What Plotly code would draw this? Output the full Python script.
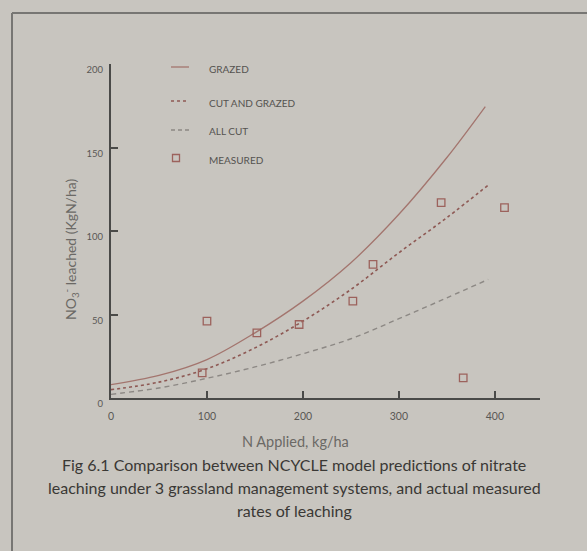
import plotly.graph_objects as go

# NCYCLE model predictions of nitrate leaching (kg N/ha) against N applied (kg/ha)
n_grazed = [0, 50, 100, 150, 200, 250, 300, 350, 390]
leach_grazed = [8.0, 13.5, 23.0, 39.0, 58.0, 81.0, 110.0, 144.0, 174.5]

n_cut_grazed = [0, 50, 100, 150, 200, 250, 300, 350, 393]
leach_cut_grazed = [5.0, 9.5, 17.5, 30.0, 46.0, 65.0, 87.0, 108.0, 127.5]

n_all_cut = [0, 50, 100, 150, 200, 250, 300, 350, 393]
leach_all_cut = [2.2, 6.0, 11.8, 18.6, 26.5, 35.5, 47.5, 60.0, 71.0]

# measured leaching rates
n_measured = [95, 100, 152, 196, 252, 273, 344, 367, 410]
leach_measured = [15, 46, 39, 44, 58, 80, 117, 12, 114]

x_ticks = [0, 100, 200, 300, 400]
y_ticks = [0, 50, 100, 150, 200]

legend_labels = ["GRAZED", "CUT AND GRAZED", "ALL CUT", "MEASURED"]

BG = "#c8c5bf"
AXIS = "#4a4a48"
W, H = 587, 551
ML, MR, MT, MB = 111, 47, 64, 153
PW, PH = W - ML - MR, H - MT - MB


def px(x):
    return (x - ML) / PW


def py(y):
    return (H - MB - y) / PH


fig = go.Figure()

fig.add_trace(go.Scatter(
    x=n_grazed, y=leach_grazed, mode="lines", line_shape="spline",
    line=dict(color="#a3756e", width=1.3), showlegend=False))
fig.add_trace(go.Scatter(
    x=n_cut_grazed, y=leach_cut_grazed, mode="lines", line_shape="spline",
    line=dict(color="#8e5954", width=1.6, dash="dot"), showlegend=False))
fig.add_trace(go.Scatter(
    x=n_all_cut, y=leach_all_cut, mode="lines", line_shape="spline",
    line=dict(color="#8c8884", width=1.4, dash="5px,4px"), showlegend=False))
fig.add_trace(go.Scatter(
    x=n_measured, y=leach_measured, mode="markers",
    marker=dict(symbol="square-open", size=7.5, color="#9c625c",
                line=dict(width=1.3)),
    showlegend=False, cliponaxis=False))

shapes = []
annotations = []

# outer frame of the figure panel
frame = dict(type="line", xref="paper", yref="paper",
             line=dict(color="#777673", width=2))
shapes.append({**frame, "x0": px(12), "x1": px(600), "y0": py(13), "y1": py(13)})
shapes.append({**frame, "x0": px(12), "x1": px(12), "y0": py(13), "y1": py(600)})

# key
key_rows = [67, 101, 130, 158]
key_styles = [
    dict(color="#a3756e", width=1.3),
    dict(color="#8e5954", width=1.6, dash="dot"),
    dict(color="#8c8884", width=1.4, dash="4px,3px"),
]
for row, style in zip(key_rows[:3], key_styles):
    shapes.append(dict(type="line", xref="paper", yref="paper",
                       x0=px(171), x1=px(189), y0=py(row), y1=py(row),
                       line=style))
shapes.append(dict(type="rect", xref="paper", yref="paper",
                   x0=px(172.5), x1=px(179.5), y0=py(161.5), y1=py(154.5),
                   line=dict(color="#9c625c", width=1.3)))
for row, label in zip([69, 103, 131, 160], legend_labels):
    annotations.append(dict(
        x=px(207), y=py(row), xref="paper", yref="paper", text=label,
        showarrow=False, xanchor="left", yanchor="middle",
        font=dict(family="Lato", size=10, color="#555350")))

# axis titles
annotations.append(dict(
    x=px(70), y=py(250), xref="paper", yref="paper",
    text="NO<sub>3</sub><sup>-</sup> leached (KgN/ha)", textangle=-90,
    showarrow=False, xanchor="center", yanchor="middle",
    font=dict(family="Lato", size=14, color="#6b6965")))
annotations.append(dict(
    x=px(295), y=py(441), xref="paper", yref="paper",
    text="N Applied, kg/ha", showarrow=False,
    xanchor="center", yanchor="middle",
    font=dict(family="Lato", size=14.5, color="#6b6965")))

# caption
caption = [
    "Fig 6.1 Comparison between NCYCLE model predictions of nitrate",
    "leaching under 3 grassland management systems, and actual measured",
    "rates of leaching",
]
for row, line in zip([464, 487, 510], caption):
    annotations.append(dict(
        x=px(294), y=py(row), xref="paper", yref="paper", text=line,
        showarrow=False, xanchor="center", yanchor="middle",
        font=dict(family="Lato", size=16, color="#3a3835")))

fig.update_layout(
    width=W, height=H,
    margin=dict(l=ML, r=MR, t=MT, b=MB),
    paper_bgcolor=BG, plot_bgcolor=BG,
    shapes=shapes, annotations=annotations,
    xaxis=dict(range=[0, 447], tickvals=x_ticks, ticks="inside", ticklen=7,
               tickwidth=2, tickcolor=AXIS, showline=True, linecolor=AXIS,
               linewidth=2, showgrid=False, zeroline=False,
               ticklabelstandoff=7,
               tickfont=dict(family="Lato", size=10.5, color="#5a5855")),
    yaxis=dict(range=[0, 200], tickvals=y_ticks, ticks="inside", ticklen=7,
               tickwidth=2, tickcolor=AXIS, showline=True, linecolor=AXIS,
               linewidth=2, showgrid=False, zeroline=False,
               ticklabelshift=6, ticklabelstandoff=4,
               tickfont=dict(family="Lato", size=9.5, color="#5a5855")),
)

fig.write_html("out.html")
